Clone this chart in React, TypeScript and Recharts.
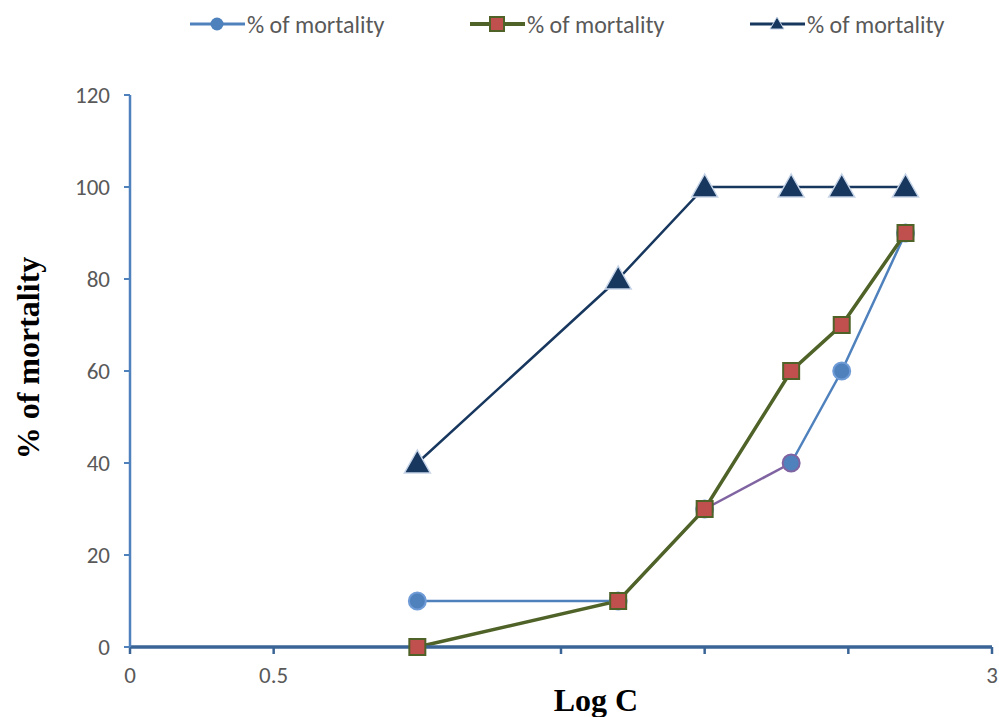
import React from 'react';
import { LineChart, Line, XAxis, YAxis, Legend, Label } from 'recharts';

const logC = [1, 1.699, 2, 2.301, 2.477, 2.699];
const seriesA = [10, 10, 30, 40, 60, 90];
const seriesB = [0, 10, 30, 60, 70, 90];
const seriesC = [40, 80, 100, 100, 100, 100];
const xTicks = [0, 0.5, 1, 1.5, 2, 2.5, 3];
const xShown = [0, 0.5, 3];
const yTicks = [0, 20, 40, 60, 80, 100, 120];
const seriesName = '% of mortality';

const BLUE = '#4f81bd';
const PURPLE = '#8064a2';
const OLIVE = '#4f6228';
const RED = '#c0504d';
const NAVY = '#17375e';
const FONT = "Carlito, 'Liberation Sans Narrow', 'Open Sans', sans-serif";
const SERIF = "'Liberation Serif', 'Times New Roman', serif";

// series A is split so the 30 -> 40 segment can be drawn in purple
const data = logC.map((x, i) => ({
  x,
  a1: i <= 2 ? seriesA[i] : null,
  a2: i >= 3 ? seriesA[i] : null,
  ap: i === 2 || i === 3 ? seriesA[i] : null,
  b: seriesB[i],
  c: seriesC[i],
}));

const circleDot = (props: any) => {
  const { cx, cy, index, payload } = props;
  if (cy == null || cx == null) return <g key={index} />;
  const purple = payload.x === logC[3];
  return <circle key={index} cx={cx} cy={cy} r={8.5} fill={BLUE} stroke={purple ? PURPLE : '#6f9bd6'} strokeWidth={2} />;
};

const squareDot = (props: any) => {
  const { cx, cy, index } = props;
  return <rect key={index} x={cx - 8} y={cy - 8} width={16} height={16} fill={RED} stroke={OLIVE} strokeWidth={2} />;
};

const triDot = (props: any) => {
  const { cx, cy, index } = props;
  return (
    <polygon
      key={index}
      points={`${cx},${cy - 13} ${cx - 13},${cy + 10} ${cx + 13},${cy + 10}`}
      fill={NAVY}
      stroke="#c6d4e8"
      strokeWidth={1.5}
    />
  );
};

const XTick = (props: any) => {
  const { x, y, payload } = props;
  if (!xShown.includes(payload.value)) return <g />;
  return (
    <text x={x} y={y + 29} textAnchor="middle" fontSize={23} fontFamily={FONT} fill="#595959">
      {payload.value}
    </text>
  );
};

const YTick = (props: any) => {
  const { x, y, payload } = props;
  return (
    <text x={x} y={y + 8} textAnchor="end" fontSize={23} fontFamily={FONT} fill="#595959">
      {payload.value}
    </text>
  );
};

const LegendBox = () => {
  const items = [
    { color: BLUE, width: 3, mark: <circle cx={27} cy={10} r={6.5} fill={BLUE} /> },
    { color: OLIVE, width: 4, mark: <rect x={20} y={3} width={14} height={14} fill={RED} stroke={OLIVE} strokeWidth={2} /> },
    { color: NAVY, width: 3, mark: <polygon points="27,3 20,15 34,15" fill={NAVY} stroke="#c6d4e8" /> },
  ];
  return (
    <div style={{ display: 'flex', height: 30, paddingLeft: 190, width: 1000 }}>
      {items.map((it, i) => (
        <div key={i} style={{ display: 'flex', alignItems: 'center', width: 280, flexShrink: 0 }}>
          <svg width={56} height={20}>
            <line x1={0} y1={10} x2={55} y2={10} stroke={it.color} strokeWidth={it.width} />
            {it.mark}
          </svg>
          <span style={{ fontFamily: FONT, fontSize: 24, color: '#595959', marginLeft: 1, whiteSpace: 'nowrap' }}>{seriesName}</span>
        </div>
      ))}
    </div>
  );
};

const YTitle = (props: any) => {
  const { viewBox } = props;
  const x = viewBox.x + 8;
  const y = viewBox.y + viewBox.height / 2 - 13;
  return (
    <text x={x} y={y} transform={`rotate(-90, ${x}, ${y})`} textAnchor="middle" dominantBaseline="central"
      fontFamily={SERIF} fontWeight="bold" fontSize={32} fill="#000">
      % of mortality
    </text>
  );
};

const XTitle = (props: any) => {
  const { viewBox } = props;
  return (
    <text x={viewBox.x + viewBox.width / 2 + 35} y={viewBox.y + viewBox.height} textAnchor="middle"
      fontFamily={SERIF} fontWeight="bold" fontSize={32} fill="#000">
      Log C
    </text>
  );
};

export default function App() {
  return (
    <div style={{ position: 'fixed', left: 0, top: 0, width: 999, height: 717, overflow: 'hidden', background: '#fff' }}>
      <LineChart width={999} height={717} data={data} margin={{ top: 65, right: 7, bottom: 6, left: 20 }}>
        <Legend verticalAlign="top" align="left" content={<LegendBox />} wrapperStyle={{ top: 9, left: 0 }} />
        <XAxis
          dataKey="x"
          type="number"
          domain={[0, 3]}
          ticks={xTicks}
          axisLine={{ stroke: '#3a6496', strokeWidth: 3.5 }}
          tickLine={{ stroke: '#3a6496', strokeWidth: 2.5 }}
          tickSize={7}
          tickMargin={0}
          tick={<XTick />}
          height={64}
        >
          <Label content={<XTitle />} />
        </XAxis>
        <YAxis
          type="number"
          domain={[0, 120]}
          ticks={yTicks}
          axisLine={{ stroke: BLUE, strokeWidth: 2.5 }}
          tickLine={{ stroke: BLUE, strokeWidth: 2 }}
          tickSize={6}
          tickMargin={14}
          tick={<YTick />}
          width={110}
        >
          <Label content={<YTitle />} />
        </YAxis>
        <Line dataKey="ap" stroke={PURPLE} strokeWidth={2.5} dot={false} isAnimationActive={false} legendType="none" />
        <Line dataKey="a1" name={seriesName} stroke={BLUE} strokeWidth={2.5} dot={circleDot} isAnimationActive={false} />
        <Line dataKey="a2" stroke={BLUE} strokeWidth={2.5} dot={circleDot} isAnimationActive={false} legendType="none" />
        <Line dataKey="b" name={seriesName} stroke={OLIVE} strokeWidth={3.5} dot={squareDot} isAnimationActive={false} />
        <Line dataKey="c" name={seriesName} stroke={NAVY} strokeWidth={2.5} dot={triDot} isAnimationActive={false} />
      </LineChart>
    </div>
  );
}
